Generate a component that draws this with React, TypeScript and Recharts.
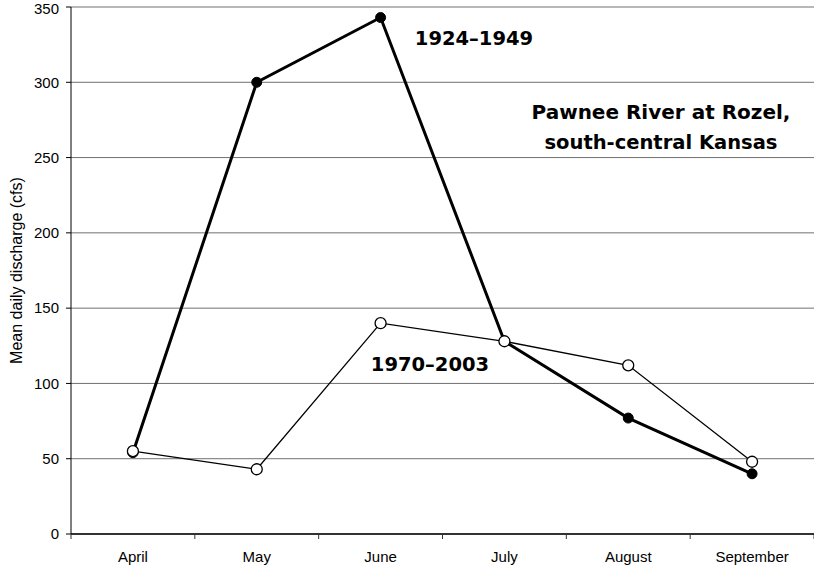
import React from 'react';
import { LineChart, Line, XAxis, YAxis, CartesianGrid } from 'recharts';

// Pawnee River at Rozel — mean daily discharge by month

const months = ['April', 'May', 'June', 'July', 'August', 'September'];
const period1924 = [54, 300, 343, 128, 77, 40];
const period1970 = [55, 43, 140, 128, 112, 48];
const yTicks = [0, 50, 100, 150, 200, 250, 300, 350];

const W = 814;
const H = 572;
const SANS = '"Liberation Sans", Arial, sans-serif';
const BOLD = '"DejaVu Sans", Verdana, sans-serif';

const data = months.map((m, i) => ({
  month: m,
  early: period1924[i],
  late: period1970[i],
}));

// month label centred in its band, tick marks on the band edges
function MonthTick(props: any) {
  const { x, y, payload, width, visibleTicksCount, index } = props;
  const step = (width || 742) / (visibleTicksCount || 6);
  const left = x - step / 2;
  return (
    <g>
      <line x1={left} x2={left} y1={y} y2={y + 5} stroke="#333" strokeWidth={1} />
      {index === visibleTicksCount - 1 && (
        <line x1={x + step / 2} x2={x + step / 2} y1={y} y2={y + 5} stroke="#333" strokeWidth={1} />
      )}
      <text x={x} y={y + 28} textAnchor="middle" fontFamily={SANS} fontSize={15} fill="#000">
        {payload.value}
      </text>
    </g>
  );
}

function YTitle(props: any) {
  const vb = props.viewBox || { x: 0, y: 7, height: 527 };
  const cx = vb.x + 16;
  const cy = vb.y + vb.height / 2;
  return (
    <text
      x={cx}
      y={cy}
      transform={`rotate(-90, ${cx}, ${cy})`}
      textAnchor="middle"
      dominantBaseline="central"
      fontFamily={SANS}
      fontSize={16}
      fill="#000"
    >
      Mean daily discharge (cfs)
    </text>
  );
}

export default function App() {
  return (
    <div style={{ position: 'absolute', left: 0, top: 0, width: W, height: H, background: '#fff' }}>
      <LineChart width={W} height={H} data={data} margin={{ top: 7, right: 0, bottom: 0, left: 0 }}>
        <CartesianGrid vertical={false} stroke="#707070" strokeWidth={1} />
        <XAxis
          dataKey="month"
          scale="band"
          height={38}
          tickSize={0}
          tickMargin={0}
          tickLine={false}
          axisLine={{ stroke: '#333', strokeWidth: 2 }}
          tick={<MonthTick />}
          interval={0}
        />
        <YAxis
          width={71}
          domain={[0, 350]}
          ticks={yTicks}
          tickSize={5}
          tickMargin={7}
          axisLine={{ stroke: '#000' }}
          tickLine={{ stroke: '#000' }}
          tick={{ fontFamily: SANS, fontSize: 15, fill: '#000' }}
          label={<YTitle />}
        />
        <YAxis
          yAxisId="right"
          orientation="right"
          width={0}
          domain={[0, 350]}
          tick={false}
          tickLine={false}
          axisLine={{ stroke: '#808080' }}
        />
        <Line
          dataKey="early"
          stroke="#000"
          strokeWidth={3}
          dot={{ r: 5, fill: '#000', stroke: '#000', strokeWidth: 1 }}
          isAnimationActive={false}
        />
        <Line
          dataKey="late"
          stroke="#000"
          strokeWidth={1.3}
          dot={{ r: 5.5, fill: '#fff', stroke: '#000', strokeWidth: 1.3 }}
          isAnimationActive={false}
        />
      </LineChart>
      <svg
        width={W}
        height={H}
        style={{ position: 'absolute', left: 0, top: 0, pointerEvents: 'none' }}
      >
        <g fontFamily={BOLD} fontWeight="bold" fontSize={19.5} fill="#000">
          <text x={474} y={45} textAnchor="middle">1924–1949</text>
          <text x={430} y={371} textAnchor="middle">1970–2003</text>
          <text x={661} y={119} textAnchor="middle" fontSize={20}>Pawnee River at Rozel,</text>
          <text x={661} y={149} textAnchor="middle">south-central Kansas</text>
        </g>
      </svg>
    </div>
  );
}
